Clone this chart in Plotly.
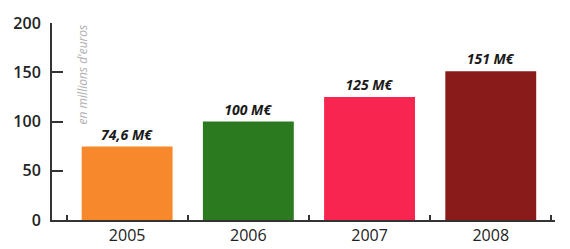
import plotly.graph_objects as go

years = ["2005", "2006", "2007", "2008"]
values = [74.6, 100, 125, 151]
labels = ["74,6 M€", "100 M€", "125 M€", "151 M€"]
colors = ["#F7882B", "#2B7A1F", "#F7254F", "#8A1B1B"]
y_ticks = [0, 50, 100, 150, 200]

fig = go.Figure()
fig.add_trace(go.Bar(
    x=years, y=values, text=labels, textposition="outside",
    marker=dict(color=colors, line=dict(width=0)),
    width=0.75,
    textfont=dict(family="Open Sans", size=14, color="#1a1a1a", style="italic", weight="bold"),
    cliponaxis=False,
))

fig.add_annotation(
    text="en millions d'euros", textangle=-90, xref="paper", yref="y",
    x=0.06, y=148, showarrow=False, xanchor="center", yanchor="middle",
    font=dict(family="Open Sans", size=12, color="#b0b0b0", style="italic"),
)

# page body has an 8px default margin: compensate so the plot lands at the reference position
fig.update_layout(
    width=562, height=241,
    margin=dict(l=44, r=15, t=15, b=29, autoexpand=False),
    paper_bgcolor="white", plot_bgcolor="white",
    showlegend=False,
    xaxis=dict(
        range=[-0.62, 3.53], showline=True, linecolor="#333", linewidth=2,
        ticks="inside", tickson="boundaries", ticklen=5, tickcolor="#333", tickwidth=1.5,
        tickfont=dict(family="Open Sans", size=16, color="#222"),
        showgrid=False, zeroline=False, automargin=False,
    ),
    yaxis=dict(
        range=[0, 200], tickvals=y_ticks, showline=True, linecolor="#333", linewidth=2,
        ticks="inside", ticklen=11, tickcolor="#333", tickwidth=2,
        tickfont=dict(family="Open Sans", size=16, color="#222", weight=600),
        showgrid=False, zeroline=False, ticklabelstandoff=6, automargin=False,
    ),
)

fig.write_html("out.html")
